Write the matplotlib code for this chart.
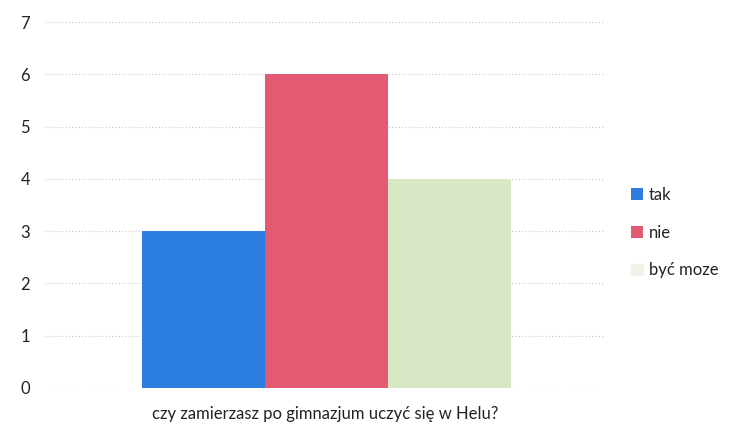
import matplotlib
matplotlib.use("Agg")
import matplotlib.pyplot as plt
import numpy as np

categories = ["tak", "nie", "być moze"]
values = [3, 6, 4]
colors = ["#2b7ee0", "#e35a72", "#d9e8c4"]
yticks = [0, 1, 2, 3, 4, 5, 6, 7]
xlabel = "czy zamierzasz po gimnazjum uczyć się w Helu?"

plt.rcParams['font.family'] = ['Lato', 'DejaVu Sans']

fig = plt.figure(figsize=(7.41, 4.34), dpi=100)
ax = fig.add_axes([0.061, 0.106, 0.755, 0.843])

x = np.arange(len(categories))
bars = ax.bar(x, values, width=1.0, color=colors, label=categories, zorder=2)

ax.set_ylim(0, 7)
ax.set_xlim(-1.29, 3.26)
ax.set_yticks(yticks)
ax.set_yticklabels([str(t) for t in yticks], fontsize=12, color="#222222")
ax.set_xticks([])
ax.tick_params(axis='y', length=0, pad=11)
ax.grid(axis='y', color="#c8c8c8", linestyle=(0, (1, 2)), linewidth=0.8, zorder=0)
for s in ax.spines.values():
    s.set_visible(False)
ax.set_xlabel(xlabel, fontsize=12, color="#222222", labelpad=13)

leg = ax.legend(loc='center left', bbox_to_anchor=(1.02, 0.425), frameon=False,
                fontsize=12, handlelength=0.7, handleheight=0.7, labelspacing=1.3,
                handletextpad=0.4)
for t in leg.get_texts():
    t.set_color("#222222")
leg.legend_handles[2].set_color("#eef3e8")

fig.savefig("out.png", dpi=100, facecolor="white")
